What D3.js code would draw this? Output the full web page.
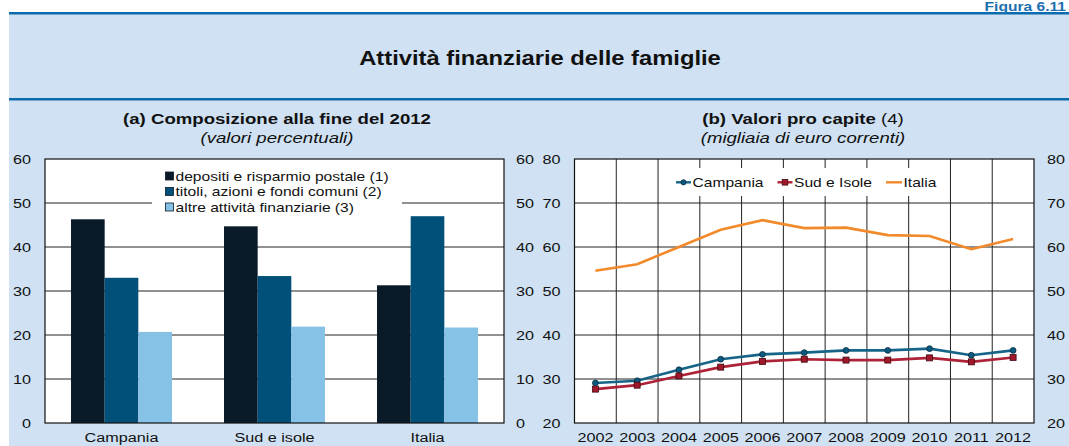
<!DOCTYPE html>
<html>
<head>
<meta charset="utf-8">
<script src="https://cdnjs.cloudflare.com/ajax/libs/d3/7.8.5/d3.min.js"></script>
<style>
  body { margin: 0; background: #fff; }
  svg { display: block; font-family: "Liberation Sans", Arial, sans-serif; }
  .grid line { stroke: #222; stroke-width: 1; }
  .axis text { fill: #111; font-size: 13.5px; }
</style>
</head>
<body>
<div id="chart"></div>
<script>
// data (a) - composition at end of 2012, percent
const categories = ["Campania", "Sud e isole", "Italia"];
const barSeries = ["depositi e risparmio postale (1)", "titoli, azioni e fondi comuni (2)", "altre attività finanziarie (3)"];
const depositi = [46.3, 44.7, 31.3];
const titoli = [33.0, 33.4, 47.0];
const altre = [20.7, 21.9, 21.7];
const barTicks = [0, 10, 20, 30, 40, 50, 60];

// data (b) - per capita values, thousands of euro
const years = ["2002", "2003", "2004", "2005", "2006", "2007", "2008", "2009", "2010", "2011", "2012"];
const campania = [29.1, 29.6, 32.1, 34.5, 35.6, 36.0, 36.5, 36.5, 36.9, 35.4, 36.5];
const sudIsole = [27.7, 28.6, 30.7, 32.7, 34.0, 34.5, 34.3, 34.3, 34.8, 33.9, 34.9];
const italia = [54.6, 56.1, 60.0, 63.9, 66.1, 64.3, 64.4, 62.7, 62.5, 59.5, 61.8];
const lineTicks = [20, 30, 40, 50, 60, 70, 80];

const W = 1069, H = 446;
const SX = 1.2; // text in the picture is drawn a bit wide
const barColors = ["#0a1a29", "#00507a", "#86c1e6"];

let svg = d3.select("#chart").append("svg")
    .attr("width", W)
    .attr("height", H);

// header + blue band
svg.append("rect").attr("x", 9).attr("y", 13).attr("width", W - 9).attr("height", H - 13).attr("fill", "#cfe1f2");
svg.append("rect").attr("x", 9).attr("y", 12).attr("width", W - 9).attr("height", 2.5).attr("fill", "#0a6cae");
svg.append("rect").attr("x", 9).attr("y", 98).attr("width", W - 9).attr("height", 2.5).attr("fill", "#0a6cae");

function stretched(sel, x, y, str, size, weight, anchor) {
    return sel.append("text")
        .attr("transform", "translate(" + x + "," + y + ") scale(" + SX + ",1)")
        .attr("text-anchor", anchor || "middle")
        .style("font-size", size + "px")
        .style("font-weight", weight || "normal")
        .attr("fill", "#111")
        .text(str);
}

stretched(svg, 1066, 10.5, "Figura 6.11", 13, "bold", "end").attr("fill", "#1d6fae");
stretched(svg, 540, 65, "Attività finanziarie delle famiglie", 19.8, "bold");

// panel titles
stretched(svg, 277, 124, "(a) Composizione alla fine del 2012", 15.5, "bold");
stretched(svg, 277, 143, "(valori percentuali)", 15.5).style("font-style", "italic");

let tb = svg.append("text")
    .attr("transform", "translate(803,124) scale(" + SX + ",1)")
    .attr("text-anchor", "middle")
    .style("font-size", "15.5px")
    .attr("fill", "#111");
tb.append("tspan").style("font-weight", "bold").text("(b) Valori pro capite");
tb.append("tspan").text(" (4)");
stretched(svg, 803, 143, "(migliaia di euro correnti)", 15.5).style("font-style", "italic");

const plotTop = 159, plotBottom = 423;

function stretchAxisText(g) {
    g.select(".domain").remove();
    g.selectAll("text").attr("transform", "scale(" + SX + ",1)");
}

// ---------- panel (a): grouped bars ----------
const ax0 = 45, ax1 = 504;
let ya = d3.scaleLinear().domain([0, 60]).range([plotBottom, plotTop]);
let xa = d3.scaleBand().domain(categories).range([ax0, ax1]).paddingInner(0.34).paddingOuter(0.17);
let xs = d3.scaleBand().domain(barSeries).range([0, xa.bandwidth()]);

let pa = svg.append("g");
pa.append("rect").attr("x", ax0).attr("y", plotTop).attr("width", ax1 - ax0).attr("height", plotBottom - plotTop).attr("fill", "#fff");

pa.append("g").attr("class", "grid")
    .selectAll("line")
    .data(barTicks.slice(1, -1))
    .enter()
    .append("line")
    .attr("x1", ax0).attr("x2", ax1)
    .attr("y1", function (d) { return ya(d); })
    .attr("y2", function (d) { return ya(d); });

let barRows = categories.map(function (c, i) {
    return { cat: c, values: [depositi[i], titoli[i], altre[i]] };
});

pa.append("g")
    .selectAll("g")
    .data(barRows)
    .enter()
    .append("g")
    .attr("transform", function (d) { return "translate(" + xa(d.cat) + ",0)"; })
    .selectAll("rect")
    .data(function (d) { return d.values.map(function (v, j) { return { s: barSeries[j], v: v, j: j }; }); })
    .enter()
    .append("rect")
    .attr("x", function (d) { return xs(d.s); })
    .attr("width", xs.bandwidth())
    .attr("y", function (d) { return ya(d.v); })
    .attr("height", function (d) { return plotBottom - ya(d.v); })
    .attr("fill", function (d) { return barColors[d.j]; });

// legend (a)
let lga = pa.append("g");
lga.append("rect").attr("x", 152).attr("y", 164).attr("width", 250).attr("height", 50).attr("fill", "#fff");
barSeries.forEach(function (s, i) {
    let cy = 176 + i * 15.5;
    lga.append("rect").attr("x", 165.5).attr("y", cy - 4).attr("width", 8).attr("height", 8)
        .attr("fill", barColors[i]).attr("stroke", "#0a1a29").attr("stroke-width", 0.8);
    stretched(lga, 175.5, cy + 4.6, s, 13, "normal", "start");
});

pa.append("rect").attr("x", ax0).attr("y", plotTop).attr("width", ax1 - ax0).attr("height", plotBottom - plotTop)
    .attr("fill", "none").attr("stroke", "#111").attr("stroke-width", 1.2);

pa.append("g").attr("class", "axis")
    .attr("transform", "translate(" + ax0 + ",0)")
    .call(d3.axisLeft(ya).tickValues(barTicks).tickSize(0).tickPadding(11.7))
    .call(stretchAxisText);
pa.append("g").attr("class", "axis")
    .attr("transform", "translate(" + ax1 + ",0)")
    .call(d3.axisRight(ya).tickValues(barTicks).tickSize(0).tickPadding(10))
    .call(stretchAxisText);
pa.append("g").attr("class", "axis")
    .attr("transform", "translate(0," + plotBottom + ")")
    .call(d3.axisBottom(xa).tickSize(0).tickPadding(9))
    .call(stretchAxisText);

// ---------- panel (b): lines ----------
const bx0 = 574.5, bx1 = 1034;
let yb = d3.scaleLinear().domain([20, 80]).range([plotBottom, plotTop]);
let xb = d3.scaleBand().domain(years).range([bx0, bx1]);
let xc = function (d) { return xb(d) + xb.bandwidth() / 2; };

let pb = svg.append("g");
pb.append("rect").attr("x", bx0).attr("y", plotTop).attr("width", bx1 - bx0).attr("height", plotBottom - plotTop).attr("fill", "#fff");

let gridb = pb.append("g").attr("class", "grid");
gridb.selectAll(".h")
    .data(lineTicks.slice(1, -1))
    .enter()
    .append("line")
    .attr("class", "h")
    .attr("x1", bx0).attr("x2", bx1)
    .attr("y1", function (d) { return yb(d); })
    .attr("y2", function (d) { return yb(d); });
gridb.selectAll(".v")
    .data(years.slice(1))
    .enter()
    .append("line")
    .attr("class", "v")
    .attr("x1", function (d) { return xb(d); })
    .attr("x2", function (d) { return xb(d); })
    .attr("y1", plotTop).attr("y2", plotBottom);

// legend (b) background sits over the grid
pb.append("rect").attr("x", 672).attr("y", 168).attr("width", 270).attr("height", 28).attr("fill", "#fff");

let lineSeries = [
    { name: "Campania", values: campania, color: "#166588", mark: "circle", fill: "#0b5a80", edge: "#0a2b3d" },
    { name: "Sud e Isole", values: sudIsole, color: "#ad2236", mark: "square", fill: "#a3172b", edge: "#3d0a12" },
    { name: "Italia", values: italia, color: "#f28a2b", mark: null }
];

let line = d3.line()
    .x(function (d, i) { return xc(years[i]); })
    .y(function (d) { return yb(d); });

lineSeries.forEach(function (s) {
    pb.append("path")
        .datum(s.values)
        .attr("d", line)
        .attr("fill", "none")
        .attr("stroke", s.color)
        .attr("stroke-width", 2.6);
    if (s.mark === "circle") {
        pb.append("g").selectAll("circle")
            .data(s.values)
            .enter()
            .append("circle")
            .attr("cx", function (d, i) { return xc(years[i]); })
            .attr("cy", function (d) { return yb(d); })
            .attr("r", 2.9)
            .attr("fill", s.fill).attr("stroke", s.edge).attr("stroke-width", 0.8);
    } else if (s.mark === "square") {
        pb.append("g").selectAll("rect")
            .data(s.values)
            .enter()
            .append("rect")
            .attr("x", function (d, i) { return xc(years[i]) - 3; })
            .attr("y", function (d) { return yb(d) - 3; })
            .attr("width", 6).attr("height", 6)
            .attr("fill", s.fill).attr("stroke", s.edge).attr("stroke-width", 0.8);
    }
});

// legend (b) items
let legX = [676, 777.5, 886];
let legTextX = [692.5, 794, 903.5];
lineSeries.forEach(function (s, i) {
    let cy = 182.3;
    let x0 = legX[i], x1 = legTextX[i] - 1.5;
    pb.append("line").attr("x1", x0).attr("x2", x1).attr("y1", cy).attr("y2", cy)
        .attr("stroke", s.color).attr("stroke-width", 2.4);
    if (s.mark === "circle") {
        pb.append("circle").attr("cx", (x0 + x1) / 2).attr("cy", cy).attr("r", 2.6)
            .attr("fill", s.fill).attr("stroke", s.edge).attr("stroke-width", 0.8);
    } else if (s.mark === "square") {
        pb.append("rect").attr("x", (x0 + x1) / 2 - 2.8).attr("y", cy - 2.8).attr("width", 5.6).attr("height", 5.6)
            .attr("fill", s.fill).attr("stroke", s.edge).attr("stroke-width", 0.8);
    }
    stretched(pb, legTextX[i], cy + 4.7, s.name, 13, "normal", "start");
});

pb.append("rect").attr("x", bx0).attr("y", plotTop).attr("width", bx1 - bx0).attr("height", plotBottom - plotTop)
    .attr("fill", "none").attr("stroke", "#111").attr("stroke-width", 1.2);

pb.append("g").attr("class", "axis")
    .attr("transform", "translate(" + bx0 + ",0)")
    .call(d3.axisLeft(yb).tickValues(lineTicks).tickSize(0).tickPadding(11.7))
    .call(stretchAxisText);
pb.append("g").attr("class", "axis")
    .attr("transform", "translate(" + bx1 + ",0)")
    .call(d3.axisRight(yb).tickValues(lineTicks).tickSize(0).tickPadding(10.8))
    .call(stretchAxisText);
pb.append("g").attr("class", "axis")
    .attr("transform", "translate(0," + plotBottom + ")")
    .call(d3.axisBottom(xb).tickSize(0).tickPadding(9))
    .call(stretchAxisText);
</script>
</body>
</html>
